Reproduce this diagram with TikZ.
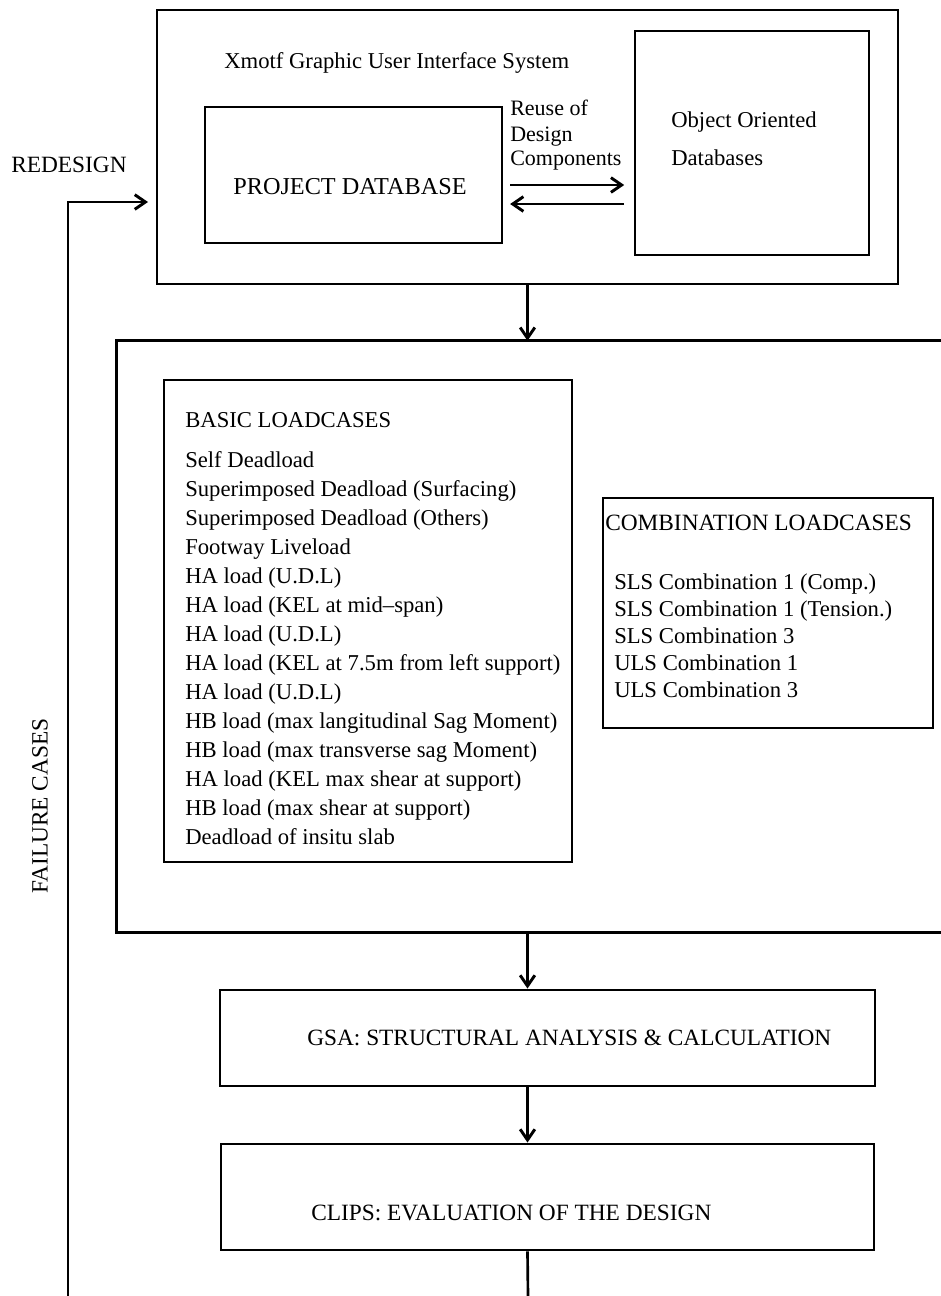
\documentclass[tikz,border=0pt]{standalone}
\usepackage{fontspec}
\setmainfont{Liberation Serif}
\usetikzlibrary{arrows.meta,fit}
\begin{document}
\begin{tikzpicture}[x=0.75pt,y=-0.75pt,
  box/.style={draw, line width=2.2pt, inner sep=0pt},
  ghost/.style={draw=none, inner sep=0pt},
  line/.style={line width=2pt},
  conn/.style={line width=2pt, -{Straight Barb[length=8pt,width=11pt,line width=2.2pt]}},
  big/.style={font=\fontsize{17.5}{20}\selectfont, inner sep=0pt, anchor=base west},
  body/.style={font=\fontsize{17}{20}\selectfont, inner sep=0pt, anchor=base west},
  reuse/.style={font=\fontsize{16.5}{19}\selectfont, inner sep=0pt, anchor=base west},
]
\useasboundingbox (0,0) rectangle (940,1296);

% ---------- top GUI system ----------
\node[box, fit={(157,10) (898,284)}] (gui) {};
\node[box, fit={(205,107) (502,243)}] (pdb) {};
\node[box, fit={(635,31) (869,255)}] (ood) {};
\node[body] (guit) at (224,68) {Xmotf Graphic User Interface System};
\node[big, font=\fontsize{18.2}{21}\selectfont, anchor=base] (pdbt) at (350,194) {PROJECT DATABASE};
\node[body] (ood1) at (671,127) {Object Oriented};
\node[body] (ood2) at (671,165) {Databases};
\node[reuse] (reu1) at (510,115) {Reuse of};
\node[reuse] (reu2) at (510,141) {Design};
\node[reuse] (reu3) at (510,165) {Components};
\draw[conn, shorten <=5pt, shorten >=7pt] (pdb.east |- 0,185) -- (ood.west |- 0,185);
\draw[conn, shorten <=7pt, shorten >=5pt] (ood.west |- 0,204) -- (pdb.east |- 0,204);

% ---------- redesign feedback ----------
\node[big] (redesign) at (11,172) {REDESIGN};
\node[big, anchor=center, rotate=90] (failure) at (40,806) {FAILURE CASES};
\coordinate (fbbot) at (68,1296);
\coordinate (redtip) at (148,202);
\draw[conn] (fbbot) |- (redtip);

% ---------- load cases ----------
\node[ghost, fit={(117,341) (944,932)}] (loads) {};
\draw[line width=2.2pt] (loads.north east) -- (loads.north west) -- (loads.south west) -- (loads.south east);
\draw[conn] (gui.south) -- (gui.south |- loads.north);

\node[box, fit={(164,380) (572,862)}] (basic) {};
\node[body] (basict) at (185,427) {BASIC LOADCASES};
\foreach [count=\i from 0] \t in {
  Self Deadload,
  Superimposed Deadload (Surfacing),
  Superimposed Deadload (Others),
  Footway Liveload,
  HA load (U.D.L),
  HA load (KEL at mid–span),
  HA load (U.D.L),
  HA load (KEL at 7.5m from left support),
  HA load (U.D.L),
  HB load (max langitudinal Sag Moment),
  HB load (max transverse sag Moment),
  HA load (KEL max shear at support),
  HB load (max shear at support),
  Deadload of insitu slab}
  \node[body] (bl\i) at (185,{467+29*\i}) {\t};

\node[box, fit={(603,498) (933,728)}] (comb) {};
\node[big] (combt) at (605,530) {COMBINATION LOADCASES};
\foreach [count=\i from 0] \t in {
  SLS Combination 1 (Comp.),
  SLS Combination 1 (Tension.),
  SLS Combination 3,
  ULS Combination 1,
  ULS Combination 3}
  \node[body] (cl\i) at (614,{589+27.2*\i}) {\t};

% ---------- analysis & evaluation ----------
\node[box, fit={(220,990) (875,1086)}] (gsa) {};
\node[big] (gsat) at (307,1045) {GSA: STRUCTURAL ANALYSIS \& CALCULATION};
\node[box, fit={(221,1144) (874,1250)}] (clips) {};
\node[big] (clipst) at (311,1220) {CLIPS: EVALUATION OF THE DESIGN};

\draw[conn] (gui.south |- loads.south) -- (gui.south |- gsa.north);
\draw[conn] (gui.south |- gsa.south) -- (gui.south |- clips.north);
\coordinate (outbot) at (528,1296);
\draw[line] (gui.south |- clips.south) -- (outbot);
\end{tikzpicture}
\end{document}
